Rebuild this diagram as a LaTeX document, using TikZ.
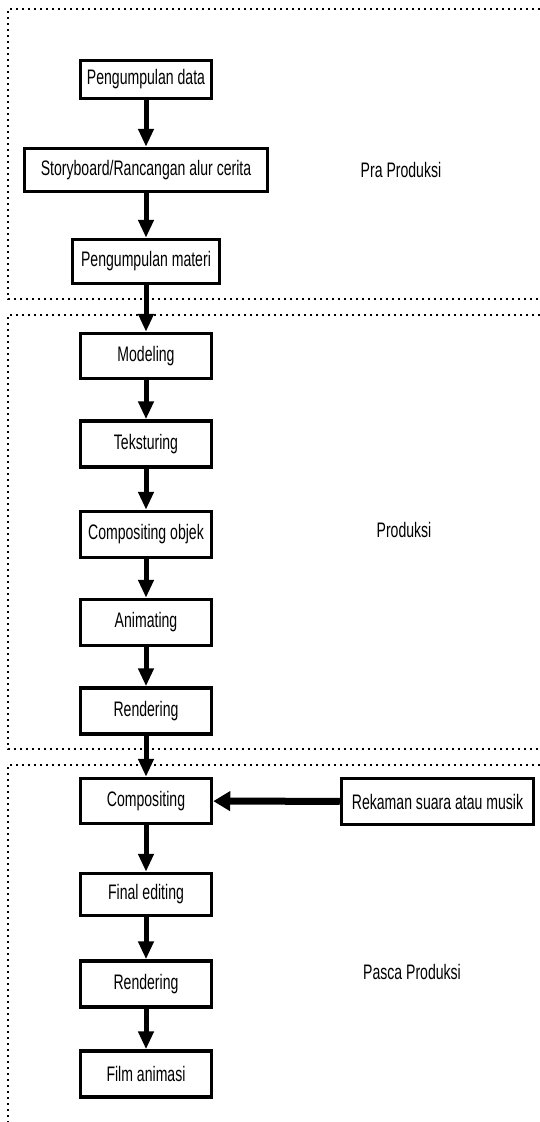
\documentclass[tikz,border=0pt]{standalone}
\usepackage{fontspec}
\setmainfont[FakeStretch=0.67]{Liberation Sans}
\usetikzlibrary{arrows.meta}
\tikzset{
  box/.style={draw, line width=3.5pt, minimum width=131pt, minimum height=46pt, inner sep=2pt,
    font=\fontsize{21}{24}\selectfont},
  lbl/.style={font=\fontsize{21}{24}\selectfont},
  arr/.style={line width=5pt, -{Triangle[width=15pt,length=18pt]}},
  zone/.style={line width=1.6pt, dash pattern=on 1.6pt off 4.4pt}
}
\begin{document}
\begin{tikzpicture}[x=1pt, y=-1pt]
  \useasboundingbox (0,0) rectangle (540,1122);
  \draw[zone] (540,9) -- (8,9) -- (8,299) -- (540,299);
  \draw[zone] (540,315) -- (8,315) -- (8,749) -- (540,749);
  \draw[zone] (540,765) -- (8,765) -- (8,1122);

  \node[box, minimum height=38pt] (data) at (146,79.5) {Pengumpulan data};
  \node[box, minimum width=243pt, minimum height=43pt] (story) at (146,170) {Storyboard/Rancangan alur cerita};
  \node[box, minimum width=147pt, minimum height=44pt] (materi) at (146,261.5) {Pengumpulan materi};
  \node[lbl] (pra) at (401,170) {Pra Produksi};

  \node[box, minimum height=45pt] (model) at (146,356) {Modeling};
  \node[box] (tekstur) at (146,444) {Teksturing};
  \node[box] (compobj) at (146,534.5) {Compositing objek};
  \node[box] (anim) at (146,622.5) {Animating};
  \node[box] (render) at (146,711) {Rendering};
  \node[lbl] (prod) at (404,530) {Produksi};

  \node[box, minimum height=45pt] (comp) at (146,801) {Compositing};
  \node[box, minimum height=42pt] (final) at (146,894.5) {Final editing};
  \node[box] (renderb) at (146,984) {Rendering};
  \node[box] (film) at (146,1074) {Film animasi};
  \node[box, minimum width=192pt] (rekaman) at (437.5,801.5) {Rekaman suara atau musik};
  \node[lbl] (pasca) at (412,972) {Pasca Produksi};

  \draw[arr] (data) -- (story);
  \draw[arr] (story) -- (materi);
  \draw[arr] (materi) -- (model);
  \draw[arr] (model) -- (tekstur);
  \draw[arr] (tekstur) -- (compobj);
  \draw[arr] (compobj) -- (anim);
  \draw[arr] (anim) -- (render);
  \draw[arr] (render) -- (comp);
  \draw[arr] (comp) -- (final);
  \draw[arr] (final) -- (renderb);
  \draw[arr] (renderb) -- (film);
  \draw[arr, line width=7pt, -{Triangle[width=19pt,length=17pt]}] (rekaman) -- (comp);
\end{tikzpicture}
\end{document}
